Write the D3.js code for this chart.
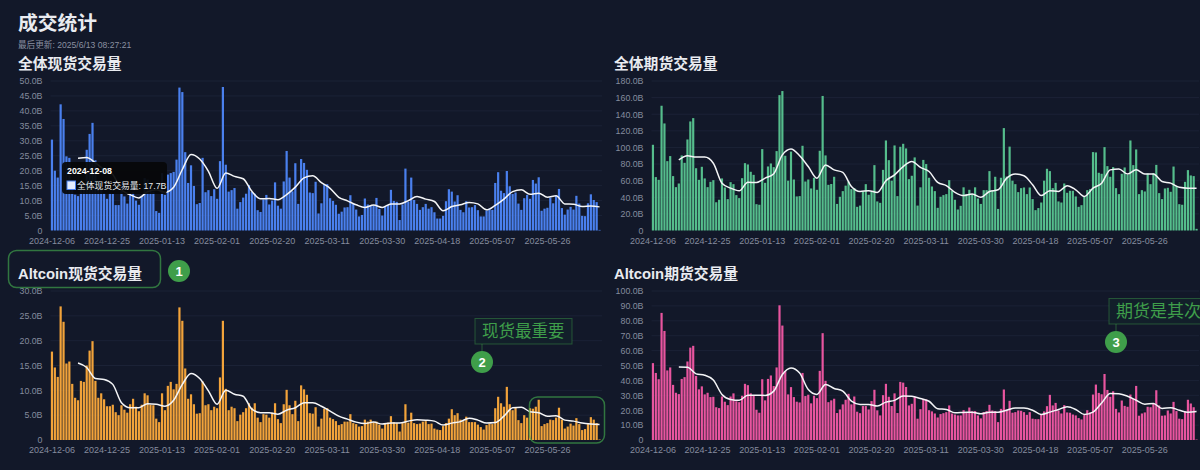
<!DOCTYPE html>
<html>
<head>
<meta charset="utf-8">
<script src="https://cdn.jsdelivr.net/npm/d3@7.9.0/dist/d3.min.js"></script>
<style>
  html, body { margin: 0; padding: 0; background: #121829; }
  svg { display: block; }
  text { font-family: "Liberation Sans", "Noto Sans CJK SC", sans-serif; }
</style>
</head>
<body>
<svg id="chart" width="1200" height="470"></svg>
<script>
// x axis labels, one every 19 days
const tickLabels = ['2024-12-06', '2024-12-25', '2025-01-13', '2025-02-01', '2025-02-20', '2025-03-11', '2025-03-30', '2025-04-18', '2025-05-07', '2025-05-26'];

// daily volume in billions
const spotAll = [30.4,20,17.7,42.2,37.3,24.8,24.3,16,12,11.5,15.5,15,27,32.3,36,23.5,14,14,12.5,10.6,12.4,12.3,8.5,8.5,15.6,11.4,9,12.5,12.8,10,8.6,11.4,17.5,17,14,13,6.5,5.9,19.2,11.9,18.7,19.2,19.6,23.7,47.8,46.3,26.2,15.9,21.8,14.9,8.8,9.2,24.3,12.8,13.5,11.5,13.8,10.6,23.2,48,22,13,13.5,14.2,7.3,9.5,11,12.3,15.2,12.9,12.3,6.8,6.2,10.4,11.9,8.7,10,16.1,8.3,7.3,16.4,26.6,17.7,13.1,22.5,8.9,23.9,22.6,20.3,12.7,12.5,16.3,5.7,9.1,15.5,15.5,10.8,9.9,8.6,5.6,6.3,7.7,7.8,11.8,9.1,7,4.7,5.2,10.7,8.7,8.4,8.5,10.9,7.2,5,8.2,8.5,13.6,9.9,9.6,3.5,8.7,20.7,9.7,17.7,10.2,8.9,6.9,7.8,8.9,7.3,7.8,6.1,4,4,4.9,9.8,13.8,13,9.7,11.8,6.9,6.1,9.8,7.7,7.8,8.5,6.8,4.7,4.7,6.7,7.3,6.9,15.9,19.5,13.3,12.5,19.9,14.8,12.2,12.7,9,6.9,10.8,11.9,10.6,16.9,15.7,17.8,6.6,7.3,7.6,11,9.1,11.6,13.9,7.5,5.3,7,7.9,7,11.6,9,4.9,4.8,9.1,12.1,10.2,9.5,0.2];
const futuresAll = [103.2,64.3,61,150.2,128.9,83.5,89.6,65.5,52.2,56.6,90.4,81.5,109.6,131.3,135.3,75,61,76.7,62.7,52.2,58.6,60.6,34,37,62.7,51.8,37.8,58.2,55.8,42.6,39,63,81.1,79.5,70.7,67,31.7,31,98,57.4,77.1,80.7,76.3,95.6,163,167.9,90,60,95,61.4,41,41.4,102,59,61.4,50.6,63.5,49,96,162,90.4,55,56,64.7,32,40.6,47.4,54,59,49.8,51,28.5,30,47,55.8,43,47,78.7,35,33.3,73,108.4,84.7,60,102.4,41.4,100.8,104.4,98.8,61.8,65.9,88,30,52,85,80,63.5,53,47.4,27.3,40.6,42.6,43.8,60.6,47.8,37,25.3,29.7,52,44,49,44,52,38.6,32,48.6,48.6,71.5,48,64.7,26,63.5,123.3,65,101,60,55.8,46.2,51,51.8,43.8,51.8,37.8,24.5,27,33.7,60,74.3,71.5,51,57.4,35,33.7,56.6,45.4,47.8,47.8,41,28.5,30.5,41,48.6,49.8,94.4,94,69.5,68.3,100.4,77.5,64.7,76.3,51,43.8,68.3,75.9,67,108.4,78.7,97.6,43.8,48.6,47,68.7,55.8,69,79,45,37.8,50.6,51.4,46.6,77,53.8,31.7,31,58.6,72.7,66.3,65.5,2];
const spotAlt = [17.8,14.6,12.7,26.9,23.8,15.4,15.8,11.3,8.5,8,11.9,11.7,15,18,19.9,11.9,8.5,9.4,8.2,6.8,6.8,7.1,5.6,5,7,6.1,5.5,7.2,8.3,6.7,5.8,7.1,9.4,9,7.1,7,4.3,3.6,9.4,6,10.9,11.7,10.2,11.3,26.7,24,14.4,8.3,9.2,7.2,5.3,5.4,11.8,7,7.2,6,6.7,6.4,12.6,24,10.3,6,6.7,6.4,3.8,5.1,5.6,6.4,7.4,6.5,7.4,4.5,3.6,5.2,5.1,4.5,5.5,7.4,4.2,3.4,7.2,10.1,7,5.2,7.9,3.8,11,10.2,9.1,5.4,5.3,6.6,2.7,4.3,6.3,6.4,4.5,4.2,3.8,3,3.2,3.7,3.7,5.2,3.4,3.2,2.7,2.8,4.1,3.7,4.1,3.6,3.7,3.1,2.3,3.3,3.5,4.8,3.6,3.4,1.7,3.4,7.2,3.5,5.5,3.4,3.2,3.3,3.7,3.8,3.2,3.3,2.3,2.1,2,2.8,3.4,4.3,6.2,5,5.4,4.1,3.8,4.7,3.6,3.6,3.6,3.1,2.6,2.1,3,3.3,3.2,6.4,8.7,7.4,6.7,10.7,7.2,6,6.5,4,3.4,5,4.5,6.4,6.3,6.7,8.1,2.8,3.2,3.4,4.1,4,4.5,6.5,4.1,2.3,2.7,3.3,2.9,4.4,3.2,2,2.2,3.2,4.6,4.1,3.4,0.1];
const futuresAlt = [51.6,45,40.8,85.3,73.2,46.7,48.7,37,31.7,30.8,41,42.2,52.7,62,63.2,43,34,36,30.6,31.7,28.8,29,22,21.4,29.2,25.7,23.4,29.2,31.3,26,25.4,29.7,37.7,36.8,31.3,29.7,20.3,18.3,40.8,26.6,41,43.3,36.2,48.7,90.4,76.8,46.2,30.6,35.5,28.8,25.7,25.2,45,29.5,30.4,24.6,29.7,28.1,46.4,71.7,39.7,25.4,26.6,27.7,18.1,20.5,23.9,27,31,23.9,29.2,19,18,22.8,22.8,20.5,26.1,33.7,19.9,16.5,30.1,37.7,29,22.8,31.3,18.1,39,38.5,35.6,23.2,24.3,29,14.3,20.7,27.6,27.2,20,19.2,17.8,15.1,17.4,18,18.7,23.2,17.8,17.1,16.5,16.5,20,18.7,21.8,19.2,19.4,16.5,14.5,18.7,19.4,23.6,19.8,19.4,12,20.9,33.9,20.5,26.3,18.3,18.7,19.8,19.6,18.7,16.9,18.7,14.3,14,14,17.4,19.2,22.7,30.3,23.2,24.9,19.8,17.8,23.4,18.5,18.3,17.1,16.5,14.7,13.8,16.7,20,18.5,30.5,37.2,31.6,30.7,44.3,33.6,29,32.7,20.9,18.5,26.5,22.9,22.3,30.5,27.6,36.3,16.3,17.8,18.5,22.3,22,24.7,33.4,23.2,16.3,16.5,19.8,17.8,25.6,19.4,14.3,14,19.4,27,24.5,22,0.3];

// white average line, read every third day starting at day index 9
const spotAllAvg = [24.2,24.4,22.6,20.4,18.7,13.6,12,10.9,13,13.6,12.8,14.5,20.4,25.4,23.9,19.8,14.1,19.2,18.1,17.3,13.1,10.6,10.7,10.3,12,14.5,17.6,18.3,16,14.1,11.1,9.9,8.6,7.7,8.5,7.7,8.9,8.9,10,11.4,10.5,9.7,6.6,8,8.6,9.4,8.9,6.9,8.4,10.5,13,13.6,12.1,12.5,11.1,11.6,8.9,8.8,8,8.2,7.9];
const futuresAllAvg = [85,90,88.4,88.4,81,57,51,47.8,58,57.8,63,68.3,91,98,90,77,63,79,73,70,53,47,48,45.8,60,67,77,83,76,71,58,54,46,42,44,40,47,49,63,68,66,55,42,48,47,54,49,41,51,57,73,74,68,73,68,68,59,57,52,51,51];
const spotAltAvg = [15.5,14.6,12.4,12.2,11.2,7.5,6.5,6.5,7.3,7.2,6.8,8,11.2,13.4,12.4,9.9,7.2,10,9.2,8.8,6.2,5.5,5.5,5.2,6,6.5,7.5,7.5,6.8,5.8,4.8,4.2,3.6,3.3,3.6,3.2,3.4,3.4,3.8,4.1,4,3.8,3,3.4,3.7,4.4,4,3.4,3.5,4.8,6.5,6.6,5.7,5.5,4.8,4.9,4,3.8,3.4,3.2,3.1];
const futuresAltAvg = [49,48.9,44.4,43.5,40.2,30.6,27.2,26.6,30.1,30.1,29.9,32.8,44,48.4,45,33.9,30.6,37.3,34.6,32.8,26.1,23.9,23.9,22.8,25.4,26.6,29.5,29.4,27.8,26,21,20.5,18.3,18.5,18.7,17.6,18.7,18.7,20,21.4,21.4,20,17.1,18.7,20.5,22.3,20.5,17.1,18.7,24.9,31.2,31,29.4,26.7,24,24.5,21.2,21.6,20,18.7,19.2];

const avgStart = 9;
const avgStep = 3;
const fmtDay = d3.utcFormat('%Y-%m-%d');
const days = d3.utcDay.range(new Date(Date.UTC(2024, 11, 6)), new Date(Date.UTC(2025, 5, 14))).map(fmtDay);

const svg = d3.select('#chart');
const annoGreen = '#3f9e4a';

function addText(str, x, y, size, color, weight) {
  return svg.append('text').attr('x', x).attr('y', y)
    .attr('font-size', size).attr('fill', color)
    .attr('font-weight', weight || 400).text(str);
}

addText('成交统计', 18, 30, 19.8, '#e9ebf0', 700);
addText('最后更新: 2025/6/13 08:27:21', 18, 48, 8.6, '#8a90a0');

function drawPanel(opts) {
  const { title, titleX, titleY, values, avg, yMax, yStep, color, left, right, top, bottom } = opts;
  addText(title, titleX, titleY, 14.8, '#e9ebf0', 700);

  const x = d3.scaleBand().domain(days).range([left, right]).paddingInner(0.24).paddingOuter(0.12);
  const y = d3.scaleLinear().domain([0, yMax]).range([bottom, top]);
  const g = svg.append('g');

  const yTicks = d3.range(0, yMax + yStep / 2, yStep);
  g.append('g').selectAll('line').data(yTicks.filter(t => t > 0)).join('line')
    .attr('x1', left).attr('x2', right + 1)
    .attr('y1', d => y(d)).attr('y2', d => y(d))
    .attr('stroke', '#1b2236').attr('stroke-width', 1);

  const yAxis = d3.axisLeft(y).tickValues(yTicks).tickSize(0).tickPadding(8)
    .tickFormat(d => d === 0 ? '0' : d.toFixed(1) + 'B');
  const yG = g.append('g').attr('transform', `translate(${left},0)`).call(yAxis);
  yG.select('.domain').remove();
  yG.selectAll('text').attr('font-size', 8.8).attr('fill', '#858c9e').attr('font-family', '"Liberation Sans", sans-serif');

  const xAxis = d3.axisBottom(x).tickValues(tickLabels).tickSize(0).tickPadding(7);
  const xG = g.append('g').attr('transform', `translate(0,${bottom})`).call(xAxis);
  xG.select('.domain').remove();
  xG.selectAll('text').attr('font-size', 9).attr('fill', '#858c9e').attr('font-family', '"Liberation Sans", sans-serif');

  g.append('g').selectAll('rect').data(values).join('rect')
    .attr('x', (d, i) => x(days[i]))
    .attr('y', d => y(d))
    .attr('width', x.bandwidth())
    .attr('height', d => bottom - y(d))
    .attr('fill', color);

  const line = d3.line()
    .x((d, i) => x(days[avgStart + i * avgStep]) + x.bandwidth() / 2)
    .y(d => y(d))
    .curve(d3.curveMonotoneX);
  g.append('path').attr('d', line(avg))
    .attr('fill', 'none').attr('stroke', '#f4f5f7').attr('stroke-width', 1.5);
}

drawPanel({ title: '全体现货交易量', titleX: 18, titleY: 69, values: spotAll, avg: spotAllAvg, yMax: 50, yStep: 5, color: '#4a80ee', left: 50.5, right: 601, top: 81, bottom: 230.5 });
drawPanel({ title: '全体期货交易量', titleX: 614, titleY: 69, values: futuresAll, avg: futuresAllAvg, yMax: 180, yStep: 20, color: '#55bd8c', left: 651.5, right: 1198, top: 81, bottom: 230.5 });
drawPanel({ title: 'Altcoin现货交易量', titleX: 18, titleY: 279, values: spotAlt, avg: spotAltAvg, yMax: 30, yStep: 5, color: '#f2a33a', left: 50.5, right: 601, top: 291, bottom: 440 });
drawPanel({ title: 'Altcoin期货交易量', titleX: 614, titleY: 279, values: futuresAlt, avg: futuresAltAvg, yMax: 100, yStep: 10, color: '#e8559f', left: 651.5, right: 1198, top: 291, bottom: 440 });

// tooltip on the first panel
svg.append('rect').attr('x', 62).attr('y', 162).attr('width', 105).attr('height', 32).attr('rx', 4)
  .attr('fill', '#060709').attr('fill-opacity', 0.93);
addText('2024-12-08', 67, 174, 8.8, '#ffffff', 700);
svg.append('rect').attr('x', 67).attr('y', 181).attr('width', 8.5).attr('height', 8.5)
  .attr('fill', '#e3ecff').attr('stroke', '#4a80ee').attr('stroke-width', 1);
addText('全体现货交易量: 17.7B', 77, 188.5, 8.8, '#e6e8ec', 400);

// hand drawn style notes
function note(cx, cy, n) {
  svg.append('circle').attr('cx', cx).attr('cy', cy).attr('r', 11).attr('fill', annoGreen);
  addText(n, cx, cy + 4.5, 13, '#ffffff', 600).attr('text-anchor', 'middle');
}
function noteBox(x0, y0, w, h, label, size, cx, cy) {
  svg.append('line').attr('x1', cx).attr('x2', cx).attr('y1', y0 + h).attr('y2', cy)
    .attr('stroke', annoGreen).attr('stroke-opacity', 0.5);
  svg.append('rect').attr('x', x0).attr('y', y0).attr('width', w).attr('height', h)
    .attr('fill', '#121f2a').attr('stroke', annoGreen).attr('stroke-opacity', 0.45);
  addText(label, x0 + 7, y0 + h / 2 + size * 0.36, size, annoGreen, 400);
}
svg.append('rect').attr('x', 8.5).attr('y', 250.5).attr('width', 152).attr('height', 37).attr('rx', 8)
  .attr('fill', 'none').attr('stroke', annoGreen).attr('stroke-width', 1.5).attr('stroke-opacity', 0.7);
svg.append('rect').attr('x', 529.5).attr('y', 397).attr('width', 75).attr('height', 46).attr('rx', 8)
  .attr('fill', 'none').attr('stroke', annoGreen).attr('stroke-width', 1.5).attr('stroke-opacity', 0.7);
note(179, 271, '1');
noteBox(475, 318.5, 97, 25.5, '现货最重要', 16.5, 482, 362);
note(482, 362, '2');
noteBox(1109, 298.5, 95, 25.5, '期货是其次', 17, 1116, 342);
note(1116, 342, '3');
</script>
</body>
</html>
